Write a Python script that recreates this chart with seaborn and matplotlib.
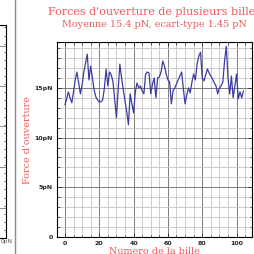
import numpy as np
import pandas as pd
import matplotlib
matplotlib.use("Agg")
import matplotlib.pyplot as plt
import seaborn as sns
from matplotlib.ticker import MultipleLocator, FixedLocator, FixedFormatter
from matplotlib.lines import Line2D

# ---- data ----
forces = [13.3, 13.9, 14.6, 14.0, 13.5, 14.6, 15.8, 16.6, 15.5, 14.4,
          15.3, 16.6, 17.5, 18.4, 15.8, 17.2, 16.0, 14.8, 14.1, 13.8,
          13.6, 13.6, 13.8, 15.0, 16.9, 15.2, 16.6, 16.3, 15.6, 13.8,
          12.0, 14.8, 17.4, 16.0, 14.8, 13.7, 12.6, 11.3, 14.4, 13.4,
          12.5, 14.6, 15.5, 15.0, 15.2, 14.7, 14.4, 16.4, 16.6, 16.5,
          14.4, 15.4, 16.0, 14.0, 16.0, 16.1, 16.6, 17.7, 17.2, 16.4,
          15.8, 15.6, 13.4, 14.7, 15.0, 15.4, 15.8, 16.2, 16.6, 14.9,
          13.4, 14.3, 15.0, 14.5, 15.6, 16.4, 15.8, 17.4, 18.2, 18.6,
          16.0, 15.7, 16.3, 16.9, 16.5, 16.2, 15.9, 15.5, 15.2, 14.4,
          15.0, 15.2, 15.6, 17.7, 19.2, 16.0, 14.4, 16.2, 14.0, 15.2,
          16.4, 13.9, 14.6, 14.0, 14.7]
bead_index = list(range(len(forces)))
y_ticks = [0, 5, 10, 15]
y_ticklabels = ["0", "5pN", "10pN", "15pN"]
x_ticks = [0, 20, 40, 60, 80, 100]
title = "Forces d'ouverture de plusieurs billes"
subtitle = "Moyenne 15.4 pN, ecart-type 1.45 pN"
xlabel = "Numero de la bille"
ylabel = "Force d'ouverture"

df = pd.DataFrame({"bille": bead_index, "force": forces})

sns.set_theme(style="white")
plt.rcParams['font.family'] = ['DejaVu Sans']

W = H = 254
fig = plt.figure(figsize=(W / 100, H / 100), dpi=100)

red = "#f05a5a"
serif = ["DejaVu Serif"]

def px(x0, y0, x1, y1):
    return [x0 / W, 1 - y1 / H, (x1 - x0) / W, (y1 - y0) / H]

# ---- partial neighbouring panel on the left ----
axl = fig.add_axes(px(-120, 25, 6, 238))
axl.set_xlim(0, 1)
axl.set_ylim(0, 213)
for yy in [30, 71, 112, 152, 192]:
    axl.axhline(yy, color="#909090", lw=0.7)
axl.yaxis.tick_right()
axl.yaxis.set_major_locator(FixedLocator([30, 71, 112, 152, 192]))
axl.yaxis.set_minor_locator(MultipleLocator(8.1))
axl.tick_params(axis="y", which="major", direction="in", length=3, width=0.6,
                labelright=False, right=True)
axl.tick_params(axis="y", which="minor", direction="in", length=1.8, width=0.5, right=True)
axl.set_xticks([])
for s in axl.spines.values():
    s.set_color("black")
    s.set_linewidth(0.8)
fig.text(0.5 / W, 1 - 242 / H, "0pN", fontsize=4.3, ha="left", va="center", color="#555555")
fig.add_artist(Line2D([15 / W, 15 / W], [0, 1], color="#8c8c8c", lw=1.0,
                      transform=fig.transFigure))

# ---- main panel ----
ax = fig.add_axes(px(56.7, 41.5, 251.5, 237))
sns.lineplot(data=df, x="bille", y="force", ax=ax, color="#3c3ca0", lw=0.9)
ax.set_xlim(-4.8, 108.7)
ax.set_ylim(0, 19.67)

ax.xaxis.set_major_locator(FixedLocator(x_ticks))
ax.xaxis.set_minor_locator(MultipleLocator(5))
ax.yaxis.set_major_locator(FixedLocator(y_ticks))
ax.yaxis.set_major_formatter(FixedFormatter(y_ticklabels))
ax.yaxis.set_minor_locator(MultipleLocator(1))

ax.grid(which="minor", color="#c4c4c4", lw=0.6)
ax.grid(which="major", color="#7a7a7a", lw=0.7)
ax.set_axisbelow(True)

ax.tick_params(which="both", direction="in", top=True, right=True, bottom=True, left=True)
ax.tick_params(which="major", length=3, width=0.6, labelsize=4.5, pad=3)
ax.tick_params(which="minor", length=1.8, width=0.5)
for lab in ax.get_xticklabels() + ax.get_yticklabels():
    lab.set_fontweight("bold")
for s in ax.spines.values():
    s.set_color("black")
    s.set_linewidth(0.8)

ax.set_xlabel("")
ax.set_ylabel("")

cx = (56.7 + 251.5) / 2 / W
fig.text(cx, 1 - 12 / H, title, color=red, fontsize=8.0, family=serif,
         ha="center", va="center")
fig.text(cx, 1 - 24.5 / H, subtitle, color=red, fontsize=6.9, family=serif,
         ha="center", va="center")
fig.text(28 / W, 1 - 140 / H, ylabel, color=red, fontsize=6.9, family=serif,
         ha="center", va="center", rotation=90)
fig.text(cx, 1 - 251 / H, xlabel, color=red, fontsize=6.9, family=serif,
         ha="center", va="center")

fig.savefig("out.png", dpi=100)
